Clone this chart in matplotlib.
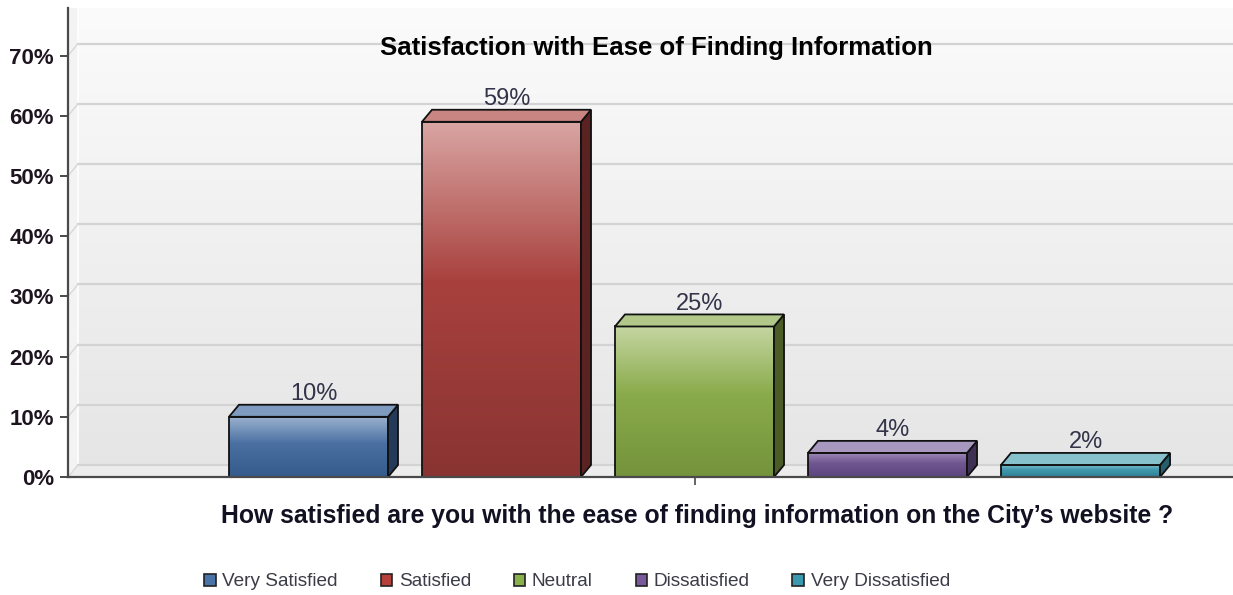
import numpy as np
import matplotlib
matplotlib.use("Agg")
import matplotlib.pyplot as plt
from matplotlib.patches import Polygon, Rectangle
from matplotlib.colors import LinearSegmentedColormap

plt.rcParams['font.family'] = ['Liberation Sans', 'DejaVu Sans']

# survey answers (% of respondents)
categories = ["Very Satisfied", "Satisfied", "Neutral", "Dissatisfied", "Very Dissatisfied"]
values = [10, 59, 25, 4, 2]
value_labels = ["10%", "59%", "25%", "4%", "2%"]
y_ticks = [0, 10, 20, 30, 40, 50, 60, 70]
y_tick_labels = ["0%", "10%", "20%", "30%", "40%", "50%", "60%", "70%"]

title = "Satisfaction with Ease of Finding Information"
question = "How satisfied are you with the ease of finding information on the City\u2019s website ?"

# per bar: light top, base, dark bottom, side face, top face, legend swatch
palette = [
    ("#9db3d0", "#4a70a2", "#355b8d", "#243a58", "#7f9cc0", "#4a74a8"),
    ("#d9a6a3", "#a8413e", "#893432", "#5a2220", "#c98582", "#b8403c"),
    ("#c5d6a2", "#8aab4b", "#74933c", "#4b5c26", "#b2c88b", "#8ab04a"),
    ("#a08cbb", "#6f5690", "#5c467e", "#3f3154", "#a897bf", "#7a5a9a"),
    ("#85c3d1", "#3f98ad", "#2f8095", "#275e6c", "#86c1cc", "#3a9ab0"),
]

W, H = 1233, 595
fig = plt.figure(figsize=(W / 100, H / 100), dpi=100)
ax = fig.add_axes([68 / W, (H - 477) / H, (W - 68) / W, (477 - 8) / H])

x_lo, x_hi = -1.246, 4.790
y_hi = 77.9
ax.set_xlim(x_lo, x_hi)
ax.set_ylim(0, y_hi)

dx = 10 / 193   # depth offset in x (data units)
dy = 2.0        # depth offset in y (%)
bar_w = 0.824

# back wall gradient
grad = np.linspace(0, 1, 256).reshape(-1, 1)
wall = LinearSegmentedColormap.from_list("wall", ["#e5e5e5", "#fbfbfb"])
ax.imshow(grad, extent=(x_lo, x_hi, 0, y_hi), origin="lower", cmap=wall,
          aspect="auto", zorder=0)

# left wall strip and floor
ax.add_patch(Polygon([(x_lo, 0), (x_lo + dx, dy), (x_lo + dx, y_hi), (x_lo, y_hi)],
                     closed=True, facecolor="#f3f3f3", edgecolor="none", zorder=1))
ax.add_patch(Polygon([(x_lo, 0), (x_hi, 0), (x_hi, dy), (x_lo + dx, dy)],
                     closed=True, facecolor="#ececec", edgecolor="none", zorder=1))
ax.plot([x_lo + dx, x_lo + dx], [dy, y_hi], color="#ffffff", lw=1.2, zorder=1)

# gridlines on the back wall with the little diagonals on the side wall
for v in y_ticks:
    ax.plot([x_lo + dx, x_hi], [v + dy, v + dy], color="#d3d3d3", lw=1.6, zorder=2)
    ax.plot([x_lo, x_lo + dx], [v, v + dy], color="#d8d8d8", lw=1.0, zorder=2)

# 3d bars
for i, (v, lab) in enumerate(zip(values, value_labels)):
    light, base, dark, side, top, _ = palette[i]
    x0 = i - bar_w / 2
    x1 = i + bar_w / 2
    cmap = LinearSegmentedColormap.from_list(f"b{i}", [(0, dark), (0.55, base), (1, light)])
    ax.imshow(grad, extent=(x0, x1, 0, v), origin="lower", cmap=cmap,
              aspect="auto", zorder=4)
    ax.add_patch(Rectangle((x0, 0), bar_w, v, facecolor="none",
                           edgecolor="#111111", lw=1.3, zorder=5))
    ax.add_patch(Polygon([(x1, 0), (x1 + dx, dy), (x1 + dx, v + dy), (x1, v)],
                         closed=True, facecolor=side, edgecolor="#111111",
                         lw=1.3, zorder=5))
    ax.add_patch(Polygon([(x0, v), (x0 + dx, v + dy), (x1 + dx, v + dy), (x1, v)],
                         closed=True, facecolor=top, edgecolor="#111111",
                         lw=1.3, zorder=5))
    ax.text(i + dx / 2, v + dy + 0.8, lab, ha="center", va="baseline",
            fontsize=17, color="#33334a", zorder=6)

# axes styling
for s in ("top", "right"):
    ax.spines[s].set_visible(False)
ax.spines["left"].set_color("#4a4a4a")
ax.spines["left"].set_linewidth(1.6)
ax.spines["bottom"].set_color("#4a4a4a")
ax.spines["bottom"].set_linewidth(1.6)
ax.spines["left"].set_zorder(7)
ax.spines["bottom"].set_zorder(7)

ax.set_yticks(y_ticks)
ax.set_yticklabels(y_tick_labels, fontsize=16, fontweight="bold", color="#1e1420")
ax.tick_params(axis="y", length=6, width=1.4, color="#4a4a4a", pad=4)
ax.set_xticks([2])
ax.set_xticklabels([""])
ax.tick_params(axis="x", length=6, width=1.2, color="#4a4a4a")

ax.set_xlabel(question, fontsize=17.8, fontweight="bold", color="#111122", labelpad=14)
ax.xaxis.set_label_coords((697.5 - 68) / (W - 68), -27 / 469)

fig.text(656 / W, 1 - 55 / H, title, ha="center", va="baseline",
         fontsize=18.5, fontweight="bold", color="#000000")

# legend
handles = [Rectangle((0, 0), 1, 1, facecolor=p[5], edgecolor="#222222", lw=1.2)
           for p in palette]
fig.legend(handles, categories, loc="center", bbox_to_anchor=(577 / W, 1 - 582 / H),
           ncol=5, frameon=False, fontsize=13.7, handlelength=0.6, handleheight=0.6,
           handletextpad=0.35, columnspacing=2.25, labelcolor="#3c3c48")

fig.savefig("out.png", dpi=100, facecolor="white")
